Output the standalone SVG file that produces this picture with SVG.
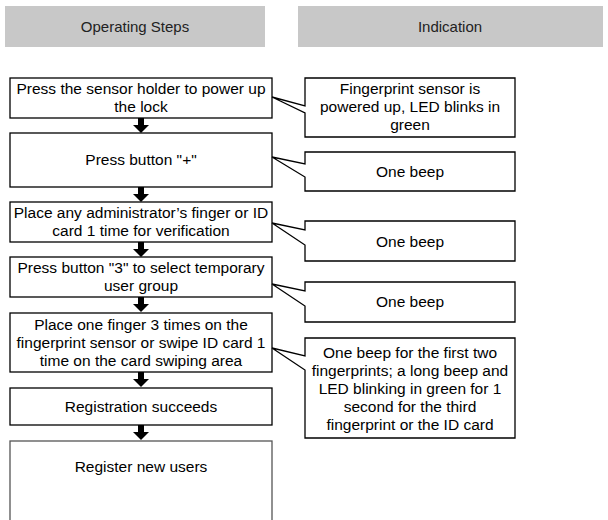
<svg xmlns="http://www.w3.org/2000/svg" width="608" height="520" viewBox="0 0 608 520">
<defs>
<style>
.hdr{fill:#c8c8c8}
.ht{font-family:"Liberation Sans",Arial,sans-serif;font-size:15px;fill:#222;text-anchor:middle}
.box{fill:#fff;stroke:#000;stroke-width:1.3}
.t{font-family:"Liberation Sans",Arial,sans-serif;font-size:15.5px;fill:#000;text-anchor:middle}
.arr{fill:#000}
</style>
<path id="ar" d="M-3,0 H3 V7 H8 L0,15 L-8,7 H-3 Z"/>
</defs>
<g id="header-steps"><rect class="hdr" x="5" y="6" width="260" height="41"/><text class="ht" x="135" y="32">Operating Steps</text></g>
<g id="header-indication"><rect class="hdr" x="298" y="6" width="305" height="41"/><text class="ht" x="450" y="32">Indication</text></g>

<g id="step1"><rect class="box" x="10" y="78" width="262" height="40"/><text class="t" x="141" y="94">Press the sensor holder to power up</text><text class="t" x="141" y="112">the lock</text></g>
<g id="step2"><rect class="box" x="10" y="133" width="262" height="54"/><text class="t" x="141" y="165">Press button "+"</text></g>
<g id="step3"><rect class="box" x="10" y="202" width="262" height="40"/><text class="t" x="141" y="218">Place any administrator’s finger or ID</text><text class="t" x="141" y="236">card 1 time for verification</text></g>
<g id="step4"><rect class="box" x="10" y="257" width="262" height="40"/><text class="t" x="141" y="273">Press button "3" to select temporary</text><text class="t" x="141" y="291">user group</text></g>
<g id="step5"><rect class="box" x="10" y="313" width="262" height="59"/><text class="t" x="141" y="330">Place one finger 3 times on the</text><text class="t" x="141" y="348">fingerprint sensor or swipe ID card 1</text><text class="t" x="141" y="366">time on the card swiping area</text></g>
<g id="step6"><rect class="box" x="10" y="388" width="262" height="37"/><text class="t" x="141" y="412">Registration succeeds</text></g>
<g id="step7"><rect class="box" x="10" y="441" width="262" height="85" style="stroke:#555"/><text class="t" x="141" y="472">Register new users</text></g>

<g id="ind1"><path class="box" d="M305,78 H515 V137 H305 V113 L272,97 L305,106 Z"/><text class="t" x="410" y="94">Fingerprint sensor is</text><text class="t" x="410" y="112">powered up, LED blinks in</text><text class="t" x="410" y="130">green</text></g>
<g id="ind2"><path class="box" d="M305,152 H515 V191 H305 V177 L272,157 L305,164 Z"/><text class="t" x="410" y="177">One beep</text></g>
<g id="ind3"><path class="box" d="M305,221 H515 V261 H305 V245 L272,223 L305,230 Z"/><text class="t" x="410" y="247">One beep</text></g>
<g id="ind4"><path class="box" d="M305,282 H515 V322 H305 V306 L272,284 L305,291 Z"/><text class="t" x="410" y="307">One beep</text></g>
<g id="ind5"><path class="box" d="M305,338 H515 V438 H305 V370 L272,348 L305,356 Z"/><text class="t" x="410" y="358">One beep for the first two</text><text class="t" x="410" y="376">fingerprints; a long beep and</text><text class="t" x="410" y="394">LED blinking in green for 1</text><text class="t" x="410" y="412">second for the third</text><text class="t" x="410" y="430">fingerprint or the ID card</text></g>

<g id="connectors">
<use href="#ar" class="arr" x="141" y="118"/>
<use href="#ar" class="arr" x="141" y="187"/>
<use href="#ar" class="arr" x="141" y="242"/>
<use href="#ar" class="arr" x="141" y="297"/>
<use href="#ar" class="arr" x="141" y="372"/>
<use href="#ar" class="arr" x="141" y="425"/>
</g>
</svg>
